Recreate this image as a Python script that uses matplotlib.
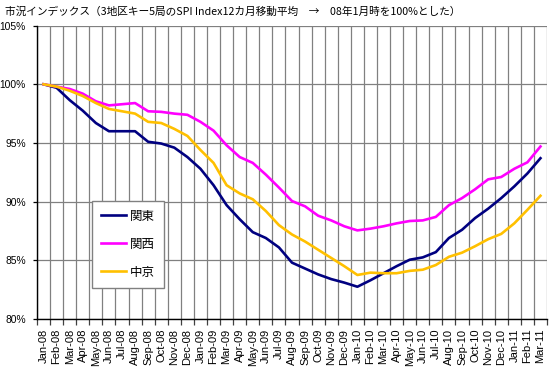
import matplotlib
matplotlib.use("Agg")
import matplotlib.pyplot as plt
import numpy as np

months = ["Jan-08", "Feb-08", "Mar-08", "Apr-08", "May-08", "Jun-08", "Jul-08", "Aug-08",
          "Sep-08", "Oct-08", "Nov-08", "Dec-08", "Jan-09", "Feb-09", "Mar-09", "Apr-09",
          "May-09", "Jun-09", "Jul-09", "Aug-09", "Sep-09", "Oct-09", "Nov-09", "Dec-09",
          "Jan-10", "Feb-10", "Mar-10", "Apr-10", "May-10", "Jun-10", "Jul-10", "Aug-10",
          "Sep-10", "Oct-10", "Nov-10", "Dec-10", "Jan-11", "Feb-11", "Mar-11"]

kanto = [100.0, 99.7, 98.65, 97.75, 96.7, 96.0, 96.0, 96.0, 95.1, 94.95, 94.6, 93.8,
         92.8, 91.4, 89.7, 88.5, 87.4, 86.9, 86.1, 84.8, 84.3, 83.8, 83.4, 83.1,
         82.75, 83.3, 83.9, 84.5, 85.05, 85.25, 85.7, 86.9, 87.6, 88.6, 89.4, 90.3,
         91.3, 92.4, 93.7]
kansai = [100.0, 99.8, 99.6, 99.2, 98.55, 98.2, 98.3, 98.4, 97.7, 97.65, 97.5, 97.4,
          96.8, 96.05, 94.8, 93.8, 93.3, 92.3, 91.2, 90.05, 89.6, 88.8, 88.4, 87.9,
          87.55, 87.7, 87.9, 88.15, 88.35, 88.4, 88.7, 89.7, 90.3, 91.05, 91.9, 92.1,
          92.8, 93.35, 94.7]
chukyo = [100.0, 99.8, 99.45, 99.0, 98.4, 97.9, 97.7, 97.5, 96.8, 96.7, 96.2, 95.6,
          94.4, 93.3, 91.4, 90.7, 90.2, 89.2, 88.0, 87.2, 86.6, 85.9, 85.2, 84.5,
          83.75, 83.95, 83.9, 83.9, 84.1, 84.2, 84.6, 85.3, 85.65, 86.2, 86.8, 87.25,
          88.15, 89.3, 90.5]
series_names = ["関東", "関西", "中京"]
y_ticks = [80, 85, 90, 95, 100, 105]
y_tick_labels = ["80%", "85%", "90%", "95%", "100%", "105%"]
title = "市況インデックス（3地区キー5局のSPI Index12カ月移動平均　→　08年1月時を100%とした）"

plt.rcParams['font.family'] = ['Noto Sans CJK JP', 'DejaVu Sans']

W, H = 555, 372
fig = plt.figure(figsize=(W / 100, H / 100), dpi=100)
ax = fig.add_axes([37 / W, 53 / H, (547 - 37) / W, (346.4 - 53) / H])

x = np.arange(len(months))
colors = ["#000080", "#FF00FF", "#FFC000"]
for vals, name, c in zip([kanto, kansai, chukyo], series_names, colors):
    ax.plot(x, vals, color=c, lw=1.9, label=name, solid_joinstyle='round', zorder=3)

ax.set_xlim(-0.5, len(months) - 0.5)
ax.set_ylim(80, 105)

grid_c = "#808080"
for yv in y_ticks:
    ax.axhline(yv, color=grid_c, lw=0.9, zorder=1)
for xb in np.arange(len(months) + 1) - 0.5:
    ax.axvline(xb, color=grid_c, lw=0.9, zorder=1)

ax.set_xticks(x)
ax.set_xticklabels(months, rotation=90, fontsize=8, family='Liberation Sans')
ax.set_xticks(np.arange(len(months) + 1) - 0.5, minor=True)
ax.tick_params(axis='x', which='major', length=0, pad=7)
ax.tick_params(axis='x', which='minor', length=4, width=0.9, color='#404040')

ax.set_yticks(y_ticks)
ax.set_yticklabels(y_tick_labels, fontsize=7.4, family='Liberation Sans')
ax.tick_params(axis='y', length=3, width=0.9, pad=5)

for s in ['top', 'right']:
    ax.spines[s].set_visible(False)
ax.spines['left'].set_color('black')
ax.spines['bottom'].set_color('black')
ax.spines['left'].set_linewidth(1.0)
ax.spines['bottom'].set_linewidth(1.0)
ax.spines['left'].set_zorder(4)
ax.spines['bottom'].set_zorder(4)

leg = ax.legend(loc='upper left', bbox_to_anchor=(92 / W, 1 - 201 / H),
                bbox_transform=fig.transFigure, fontsize=9, frameon=True,
                fancybox=False, framealpha=1, edgecolor=grid_c, borderpad=0.7,
                labelspacing=1.2, handlelength=2.0, handletextpad=0.35,
                borderaxespad=0)
leg.get_frame().set_linewidth(1.0)

fig.text(5 / W, 1 - 12 / H, title, fontsize=7.7, ha='left', va='center')

fig.savefig("out.png", dpi=100)
